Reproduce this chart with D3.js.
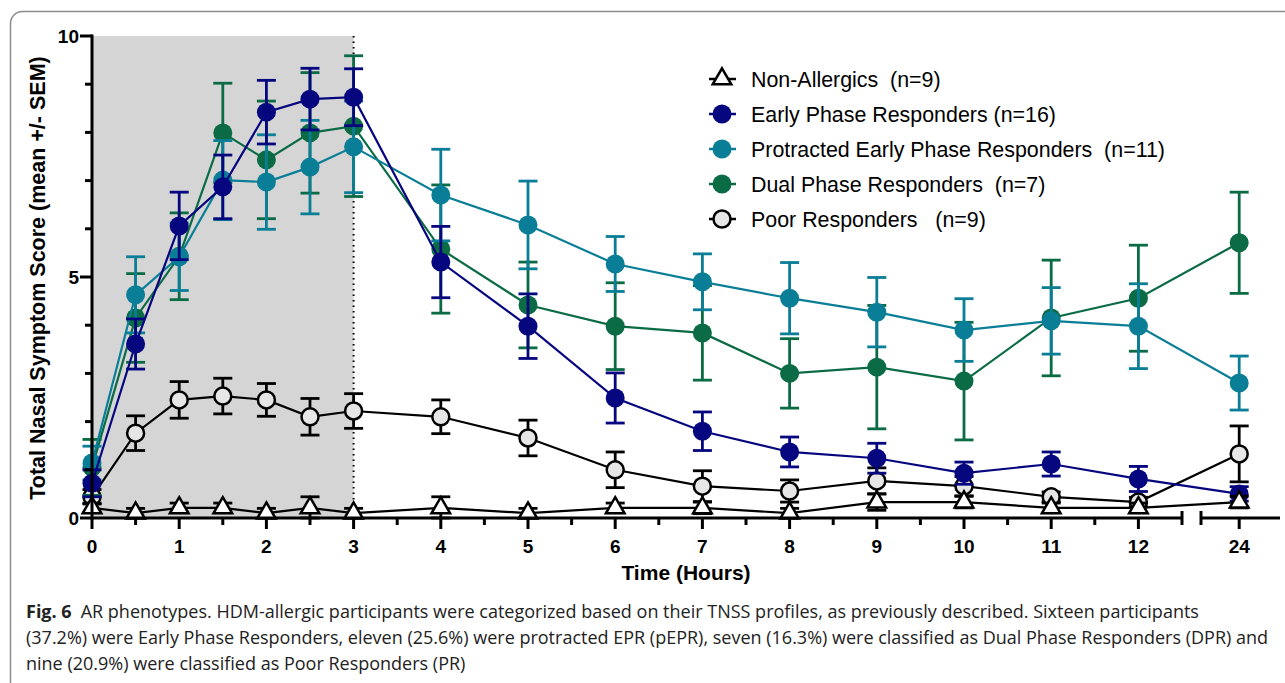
<!DOCTYPE html>
<html>
<head>
<meta charset="utf-8">
<script src="https://cdn.jsdelivr.net/npm/d3@7"></script>
<style>
  body { margin: 0; background: #fff; }
  svg text { white-space: pre; }
</style>
</head>
<body>
<script>
// time points (hours) and the five phenotype groups, mean and SEM
const times = [0, 0.5, 1, 1.5, 2, 2.5, 3, 4, 5, 6, 7, 8, 9, 10, 11, 12, 24];

const nonAllergicMean = [0.21, 0.1, 0.21, 0.21, 0.1, 0.21, 0.1, 0.21, 0.1, 0.21, 0.21, 0.1, 0.33, 0.33, 0.21, 0.21, 0.33];
const nonAllergicSem  = [0.1, 0.1, 0.1, 0.1, 0.1, 0.23, 0.1, 0.23, 0.1, 0.1, 0.12, 0.1, 0.17, 0.12, 0.1, 0.1, 0.12];

const earlyMean = [0.72, 3.61, 6.06, 6.87, 8.42, 8.69, 8.73, 5.31, 3.98, 2.49, 1.80, 1.37, 1.24, 0.93, 1.12, 0.81, 0.50];
const earlySem  = [0.28, 0.52, 0.70, 0.66, 0.66, 0.64, 0.59, 0.74, 0.67, 0.52, 0.40, 0.31, 0.31, 0.23, 0.25, 0.26, 0.15];

const protractedMean = [1.14, 4.63, 5.42, 7.01, 6.97, 7.28, 7.70, 6.70, 6.08, 5.27, 4.90, 4.56, 4.27, 3.90, 4.09, 3.98, 2.80];
const protractedSem  = [0.35, 0.79, 0.70, 0.82, 0.98, 0.97, 0.95, 0.95, 0.91, 0.57, 0.58, 0.74, 0.72, 0.65, 0.69, 0.88, 0.56];

const dualMean = [1.05, 4.15, 5.43, 7.99, 7.43, 7.99, 8.13, 5.58, 4.42, 3.98, 3.84, 3.00, 3.13, 2.84, 4.15, 4.56, 5.71];
const dualSem  = [0.58, 0.92, 0.90, 1.03, 1.22, 1.25, 1.46, 1.33, 0.89, 0.90, 0.98, 0.72, 1.28, 1.22, 1.20, 1.10, 1.05];

const poorMean = [0.44, 1.76, 2.45, 2.53, 2.45, 2.10, 2.22, 2.10, 1.66, 1.00, 0.66, 0.56, 0.77, 0.66, 0.44, 0.33, 1.33];
const poorSem  = [0.15, 0.36, 0.38, 0.37, 0.34, 0.38, 0.36, 0.35, 0.37, 0.37, 0.32, 0.23, 0.27, 0.20, 0.10, 0.10, 0.58];

const legendLabels = [
    "Non-Allergics  (n=9)",
    "Early Phase Responders (n=16)",
    "Protracted Early Phase Responders  (n=11)",
    "Dual Phase Responders  (n=7)",
    "Poor Responders   (n=9)"
];
const xTickValues = [0, 1, 2, 3, 4, 5, 6, 7, 8, 9, 10, 11, 12, 24];
const yTickValues = [0, 5, 10];
const captionLines = [
    "AR phenotypes. HDM-allergic participants were categorized based on their TNSS profiles, as previously described. Sixteen participants",
    "(37.2%) were Early Phase Responders, eleven (25.6%) were protracted EPR (pEPR), seven (16.3%) were classified as Dual Phase Responders (DPR) and",
    "nine (20.9%) were classified as Poor Responders (PR)"
];

const series = [
    { name: legendLabels[0], mean: nonAllergicMean, sem: nonAllergicSem, color: '#000', fill: '#fff', shape: 'triangle' },
    { name: legendLabels[1], mean: earlyMean, sem: earlySem, color: '#06067f', fill: '#06067f', shape: 'circle' },
    { name: legendLabels[2], mean: protractedMean, sem: protractedSem, color: '#0b7e97', fill: '#0b7e97', shape: 'circle' },
    { name: legendLabels[3], mean: dualMean, sem: dualSem, color: '#0b6b45', fill: '#0b6b45', shape: 'circle' },
    { name: legendLabels[4], mean: poorMean, sem: poorSem, color: '#000', fill: '#e6e6e6', shape: 'circle' },
];

const FONT = "Arial, 'Liberation Sans', sans-serif";
const W = 1285, H = 683;

const svg = d3.select("body").append("svg")
    .attr("width", W)
    .attr("height", H);

// figure frame (rounded top-left, runs off the page)
svg.append("rect")
    .attr("x", 10.5).attr("y", 11.5)
    .attr("width", 1400).attr("height", 800)
    .attr("rx", 12)
    .attr("fill", "none")
    .attr("stroke", "#8c8c8c")
    .attr("stroke-width", 1.5);

// broken x axis: 0..12.5 then a short piece around 24
const xA = d3.scaleLinear().domain([0, 12.5]).range([92, 1182]);
const xB = d3.scaleLinear().domain([23.56, 24.47]).range([1201, 1280]);
const xPos = t => t <= 12.5 ? xA(t) : xB(t);
const y = d3.scaleLinear().domain([0, 10]).range([518, 36]);

const plot = svg.append("g");

// allergen challenge window (0-3 h)
plot.append("rect")
    .attr("x", xA(0)).attr("y", y(10))
    .attr("width", xA(3) - xA(0)).attr("height", y(0) - y(10))
    .attr("fill", "#d5d5d5");
plot.append("line")
    .attr("x1", xA(3)).attr("x2", xA(3))
    .attr("y1", y(10)).attr("y2", y(0))
    .attr("stroke", "#000").attr("stroke-width", 2)
    .attr("stroke-dasharray", "1.5,4");

// data, last legend entry drawn first so the first ends up on top
const line = d3.line().x(d => xPos(d.t)).y(d => y(d.v));
const tri = d3.symbol(d3.symbolTriangle, 150);
const CAP = 9.5;

series.slice().reverse().forEach(s => {
    const pts = times.map((t, i) => ({ t, v: s.mean[i], e: s.sem[i] }));
    const g = plot.append("g");
    g.append("path").datum(pts)
        .attr("d", line)
        .attr("fill", "none")
        .attr("stroke", s.color)
        .attr("stroke-width", 2.2);

    const eb = g.selectAll(".eb").data(pts).join("g")
        .attr("stroke", s.color).attr("stroke-width", 2.8);
    eb.append("line")
        .attr("x1", d => xPos(d.t)).attr("x2", d => xPos(d.t))
        .attr("y1", d => y(d.v - d.e)).attr("y2", d => y(d.v + d.e));
    eb.append("line")
        .attr("x1", d => xPos(d.t) - CAP).attr("x2", d => xPos(d.t) + CAP)
        .attr("y1", d => y(d.v + d.e)).attr("y2", d => y(d.v + d.e));
    eb.append("line")
        .attr("x1", d => xPos(d.t) - CAP).attr("x2", d => xPos(d.t) + CAP)
        .attr("y1", d => y(Math.max(0, d.v - d.e))).attr("y2", d => y(Math.max(0, d.v - d.e)));

    if (s.shape === 'triangle') {
        g.selectAll(".m").data(pts).join("path")
            .attr("d", tri)
            .attr("transform", d => `translate(${xPos(d.t)},${y(d.v)})`)
            .attr("fill", s.fill).attr("stroke", s.color).attr("stroke-width", 2.5);
    } else {
        g.selectAll(".m").data(pts).join("circle")
            .attr("cx", d => xPos(d.t)).attr("cy", d => y(d.v))
            .attr("r", s.fill === s.color ? 9.5 : 8.5)
            .attr("fill", s.fill)
            .attr("stroke", s.color)
            .attr("stroke-width", s.fill === s.color ? 0 : 2.5);
    }
});

// y axis
const yAxis = svg.append("g").attr("font-family", FONT);
yAxis.append("line")
    .attr("x1", 92).attr("x2", 92).attr("y1", y(10) - 1.5).attr("y2", y(0) + 1.5)
    .attr("stroke", "#000").attr("stroke-width", 3);
yAxis.selectAll(".tk").data(d3.range(0, 11)).join("line")
    .attr("x1", d => yTickValues.includes(d) ? 80 : 85).attr("x2", 92)
    .attr("y1", d => y(d)).attr("y2", d => y(d))
    .attr("stroke", "#000").attr("stroke-width", 3);
yAxis.selectAll(".lb").data(yTickValues).join("text")
    .attr("x", 79).attr("y", d => y(d))
    .attr("dy", "0.36em")
    .attr("text-anchor", "end")
    .attr("font-size", 19).attr("font-weight", "bold")
    .text(d => d);

// x axis, two pieces
const xAxis = svg.append("g").attr("font-family", FONT);
xAxis.append("line")
    .attr("x1", 90.5).attr("x2", xA(12.5)).attr("y1", y(0)).attr("y2", y(0))
    .attr("stroke", "#000").attr("stroke-width", 3);
xAxis.append("line")
    .attr("x1", xB.range()[0]).attr("x2", xB.range()[1]).attr("y1", y(0)).attr("y2", y(0))
    .attr("stroke", "#000").attr("stroke-width", 3);
[xA(12.5), xB.range()[0]].forEach(px => {
    xAxis.append("line")
        .attr("x1", px).attr("x2", px).attr("y1", y(0) - 7).attr("y2", y(0) + 7)
        .attr("stroke", "#000").attr("stroke-width", 3);
});
const minorTicks = d3.range(0.5, 12.5, 1);
xAxis.selectAll(".mn").data(minorTicks).join("line")
    .attr("x1", d => xA(d)).attr("x2", d => xA(d))
    .attr("y1", y(0)).attr("y2", y(0) + 7)
    .attr("stroke", "#000").attr("stroke-width", 3);
xAxis.selectAll(".mj").data(xTickValues).join("line")
    .attr("x1", d => xPos(d)).attr("x2", d => xPos(d))
    .attr("y1", y(0)).attr("y2", y(0) + 11)
    .attr("stroke", "#000").attr("stroke-width", 3);
xAxis.selectAll(".lb").data(xTickValues).join("text")
    .attr("x", d => xPos(d)).attr("y", 546)
    .attr("dy", "0.36em")
    .attr("text-anchor", "middle")
    .attr("font-size", 19).attr("font-weight", "bold")
    .text(d => d);

// axis titles
svg.append("text")
    .attr("transform", "translate(37,278) rotate(-90)")
    .attr("text-anchor", "middle").attr("dy", "0.36em")
    .attr("font-family", FONT).attr("font-size", 21.5).attr("font-weight", "bold")
    .text("Total Nasal Symptom Score (mean +/- SEM)");
svg.append("text")
    .attr("x", 686).attr("y", 580)
    .attr("text-anchor", "middle")
    .attr("font-family", FONT).attr("font-size", 21).attr("font-weight", "bold")
    .text("Time (Hours)");

// legend
const legend = svg.append("g").attr("font-family", FONT);
const rowY = d3.scalePoint().domain(legendLabels).range([79, 219]);
series.forEach(s => {
    const gy = rowY(s.name);
    const row = legend.append("g").attr("transform", `translate(722,${gy})`);
    row.append("line").attr("x1", -13).attr("x2", 14)
        .attr("stroke", s.color).attr("stroke-width", 2.5);
    if (s.shape === 'triangle') {
        row.append("path").attr("d", tri)
            .attr("fill", s.fill).attr("stroke", s.color).attr("stroke-width", 2.5);
    } else {
        row.append("circle")
            .attr("r", s.fill === s.color ? 9.5 : 8.5)
            .attr("fill", s.fill).attr("stroke", s.color)
            .attr("stroke-width", s.fill === s.color ? 0 : 2.5);
    }
    legend.append("text")
        .attr("x", 751).attr("y", gy).attr("dy", "0.36em")
        .attr("font-size", 21.4)
        .text(s.name);
});

// caption
const cap = svg.append("g").attr("font-family", "'Open Sans', sans-serif").attr("font-size", 18).attr("fill", "#222");
const first = cap.append("text").attr("x", 26).attr("y", 618);
first.append("tspan").attr("font-weight", "bold").text("Fig. 6");
first.append("tspan").attr("dx", 9).text(captionLines[0]);
cap.selectAll(".cl").data(captionLines.slice(1)).join("text")
    .attr("x", 26).attr("y", (d, i) => 644 + i * 26)
    .text(d => d);
</script>
</body>
</html>
